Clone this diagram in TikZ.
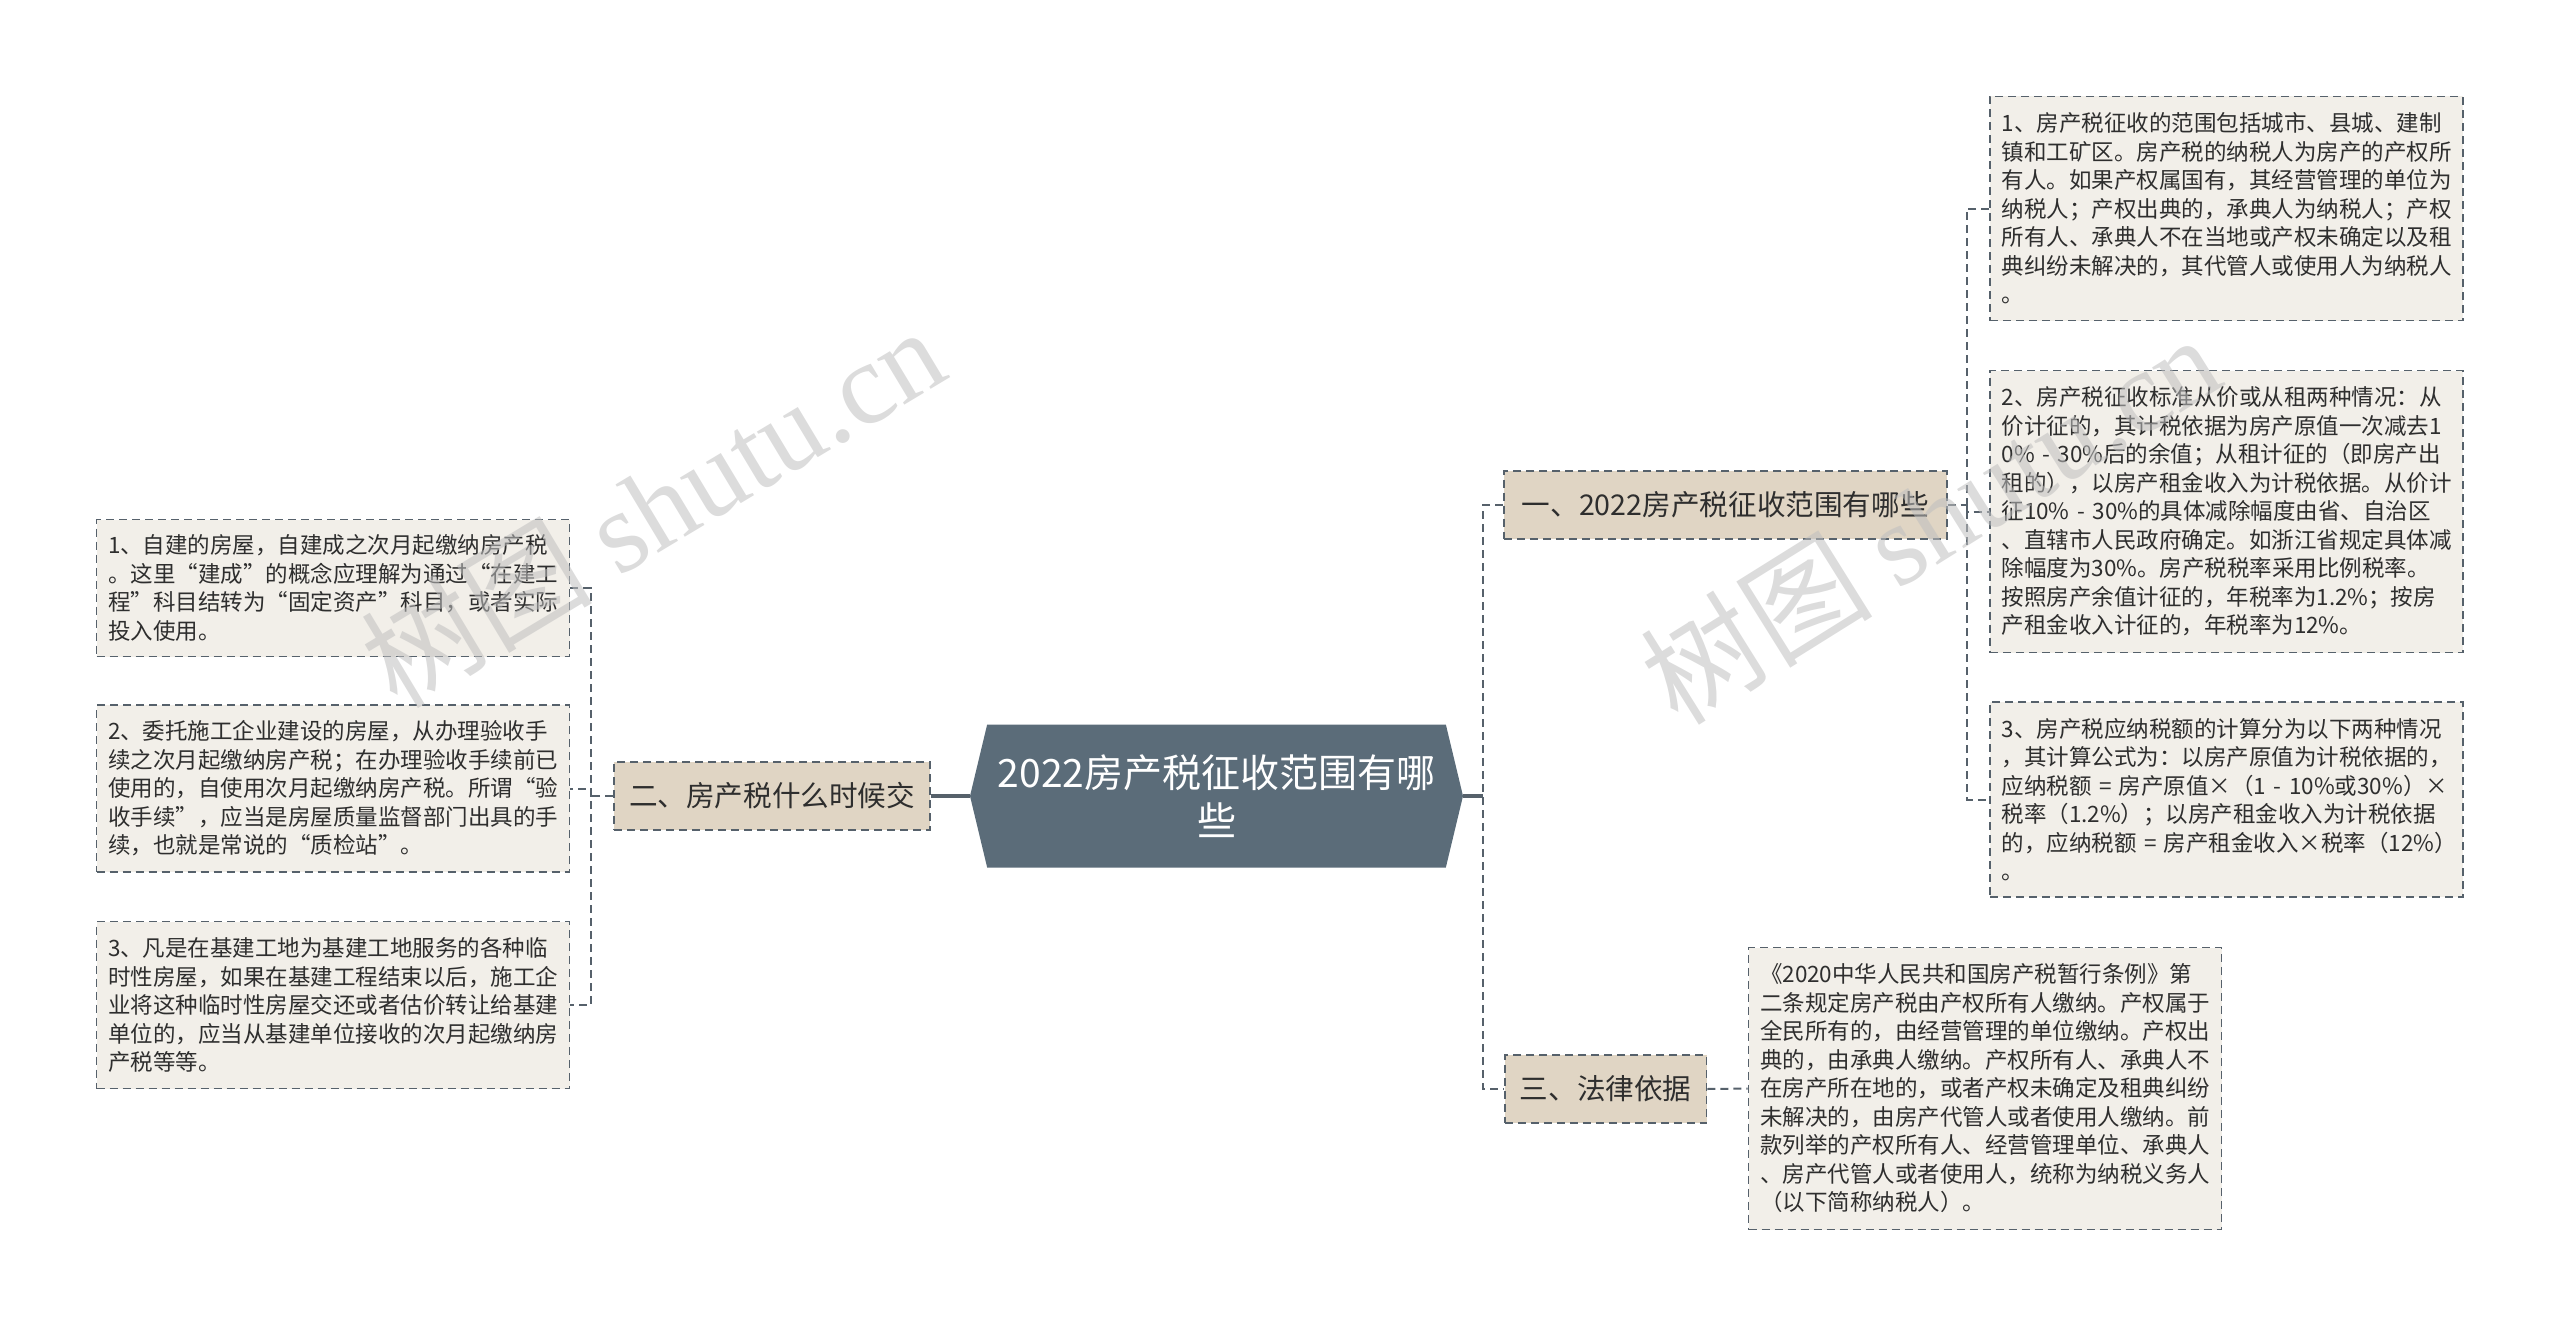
\documentclass[tikz,border=0pt]{standalone}
\usepackage{fontspec}
\setmainfont{Noto Sans CJK SC}
\newfontfamily\wmserif{Liberation Serif}
\usetikzlibrary{shapes.symbols}
\definecolor{rootfill}{HTML}{5B6C79}
\definecolor{branchfill}{HTML}{E0D5C4}
\definecolor{leaffill}{HTML}{F2EFE9}
\definecolor{linegray}{HTML}{56616B}
\definecolor{textdark}{HTML}{2E2E2E}

\begin{document}
\begin{tikzpicture}[x=0.5pt,y=-0.5pt,
  root/.style={shape=signal, signal to=west and east, signal pointer angle=153, fill=rootfill, text=white, align=center, minimum width=246.5pt, minimum height=71.5pt, inner sep=0pt, font=\fontsize{19.5pt}{24pt}\selectfont},
  branch/.style={draw=linegray, dash pattern=on 4pt off 2.5pt, line width=0.9pt, fill=branchfill, text=textdark, inner xsep=7.5pt, inner ysep=0pt, minimum height=34pt, font=\fontsize{14.3pt}{17pt}\selectfont},
  leaf/.style={draw=linegray, dash pattern=on 4pt off 2.5pt, line width=0.9pt, fill=leaffill, text=textdark, inner xsep=5.75pt, inner ysep=0pt, text width=225pt, align=left, font=\fontsize{11.25pt}{14.25pt}\selectfont},
  link/.style={draw=linegray, line width=1pt, dash pattern=on 4pt off 2.5pt},
  trunk/.style={draw=linegray, line width=1.6pt},
  wmark/.style={text=black!25, opacity=0.55, font=\fontsize{58pt}{58pt}\selectfont}]
\useasboundingbox (0,0) rectangle (2560,1327);

% Root
\node[root] (root) at (1216.5,796) {2022房产税征收范围有哪\\些};

% Branches
\node[branch, anchor=west, inner xsep=9pt] (b1) at (1503,505) {一、2022房产税征收范围有哪些};
\node[branch, anchor=east] (b2) at (931,796) {二、房产税什么时候交};
\node[branch, anchor=west] (b3) at (1504,1089) {三、法律依据};

% Right leaves
\node[leaf, minimum height=112pt] (r1) at (2226.5,208.5) {1、房产税征收的范围包括城市、县城、建制\\镇和工矿区。房产税的纳税人为房产的产权所\\有人。如果产权属国有，其经营管理的单位为\\纳税人；产权出典的，承典人为纳税人；产权\\所有人、承典人不在当地或产权未确定以及租\\典纠纷未解决的，其代管人或使用人为纳税人\\。};
\node[leaf, minimum height=141pt] (r2) at (2226.5,511.5) {2、房产税征收标准从价或从租两种情况：从\\价计征的，其计税依据为房产原值一次减去1\\0\%~-~30\%后的余值；从租计征的（即房产出\\租的），以房产租金收入为计税依据。从价计\\征10\%~-~30\%的具体减除幅度由省、自治区\\、直辖市人民政府确定。如浙江省规定具体减\\除幅度为30\%。房产税税率采用比例税率。\\按照房产余值计征的，年税率为1.2\%；按房\\产租金收入计征的，年税率为12\%。};
\node[leaf, minimum height=97.5pt] (r3) at (2226.5,799.5) {3、房产税应纳税额的计算分为以下两种情况\\，其计算公式为：以房产原值为计税依据的，\\应纳税额~=~房产原值×（1~-~10\%或30\%）×\\税率（1.2\%）；以房产租金收入为计税依据\\的，应纳税额~=~房产租金收入×税率（12\%）\\。};
\node[leaf, minimum height=141pt] (r4) at (1985,1088.5) {《2020中华人民共和国房产税暂行条例》第\\二条规定房产税由产权所有人缴纳。产权属于\\全民所有的，由经营管理的单位缴纳。产权出\\典的，由承典人缴纳。产权所有人、承典人不\\在房产所在地的，或者产权未确定及租典纠纷\\未解决的，由房产代管人或者使用人缴纳。前\\款列举的产权所有人、经营管理单位、承典人\\、房产代管人或者使用人，统称为纳税义务人\\（以下简称纳税人）。};

% Left leaves
\node[leaf, minimum height=68.5pt] (l1) at (333,588) {1、自建的房屋，自建成之次月起缴纳房产税\\。这里“建成”的概念应理解为通过“在建工\\程”科目结转为“固定资产”科目，或者实际\\投入使用。};
\node[leaf, minimum height=83.5pt] (l2) at (333,788.5) {2、委托施工企业建设的房屋，从办理验收手\\续之次月起缴纳房产税；在办理验收手续前已\\使用的，自使用次月起缴纳房产税。所谓“验\\收手续”，应当是房屋质量监督部门出具的手\\续，也就是常说的“质检站”。};
\node[leaf, minimum height=83.5pt] (l3) at (333,1005) {3、凡是在基建工地为基建工地服务的各种临\\时性房屋，如果在基建工程结束以后，施工企\\业将这种临时性房屋交还或者估价转让给基建\\单位的，应当从基建单位接收的次月起缴纳房\\产税等等。};

% Connectors
\coordinate (rj) at (1483,796);
\coordinate (lj) at (591,796);
\coordinate (r1j) at (1967,505);
\draw[trunk] (root.west) -- (b2.east);
\draw[trunk] (root.east) -- (rj);
\draw[link] (b1.west) -| (rj) |- (b3.west);
\draw[link] (b2.west) -- (lj);
\draw[link] (l1.east) -| (lj) |- (l3.east);
\draw[link] (lj) |- (l2.east);
\draw[link] (b1.east) -- (r1j);
\draw[link] (r1.west) -| (r1j) |- (r3.west);
\draw[link] (r1j) |- (r2.west);
\draw[link] (b3.east) -- (r4.west);

% Watermarks
\node[wmark, rotate=31] (wm1) at (652,506) {树图 {\wmserif shutu.cn}};
\node[wmark, rotate=32] (wm2) at (1930,518) {树图 {\wmserif shutu.cn}};
\end{tikzpicture}
\end{document}
